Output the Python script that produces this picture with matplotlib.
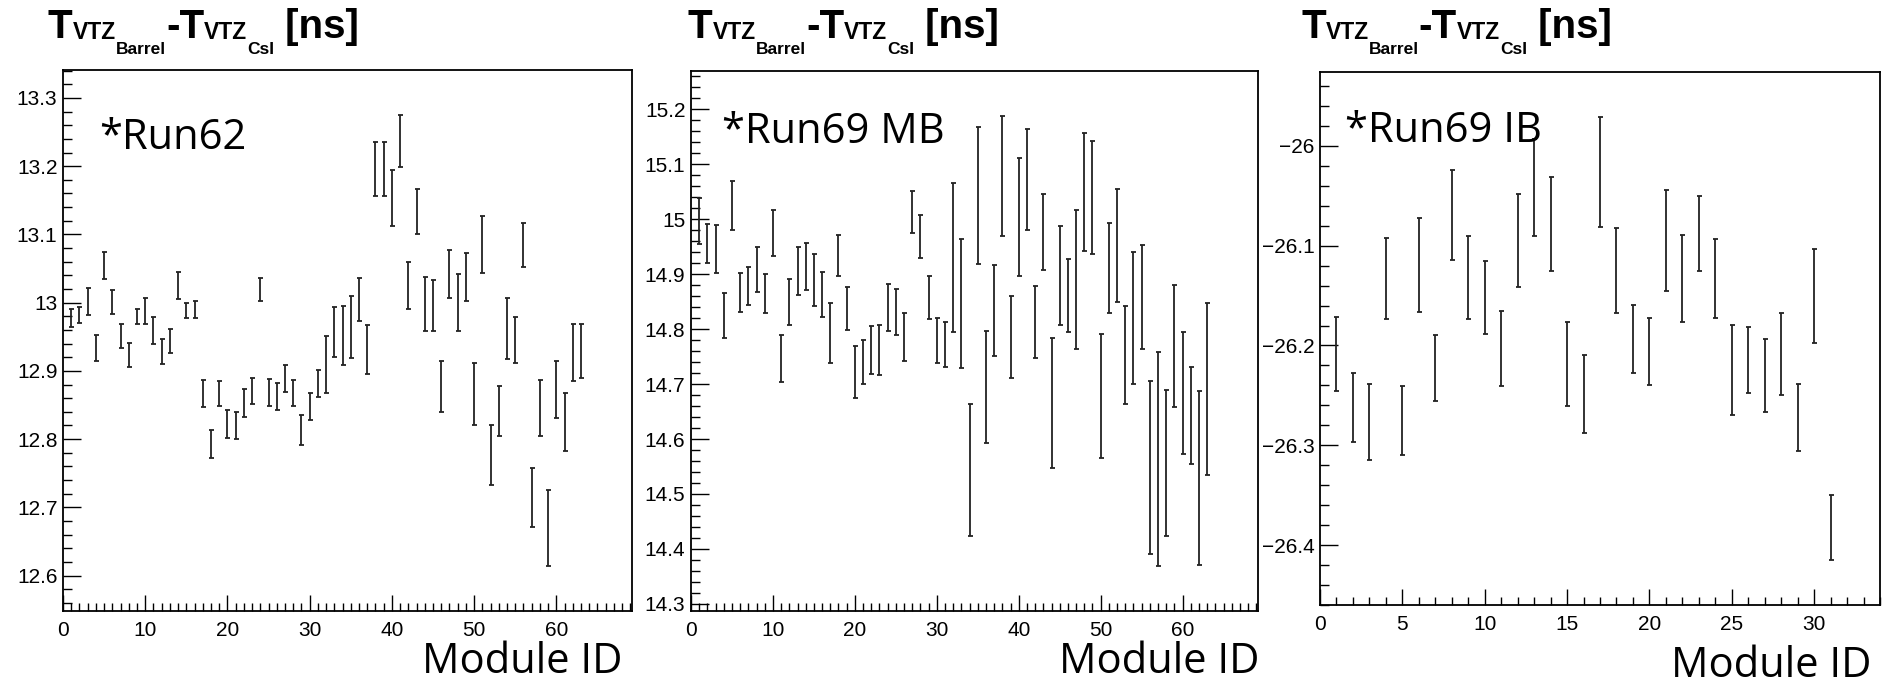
import numpy as np
import matplotlib.pyplot as plt
from matplotlib.ticker import MultipleLocator, FuncFormatter
from matplotlib.transforms import IdentityTransform

# module IDs
ids_mb = np.arange(1, 64)
ids_ib = np.arange(1, 32)

# Run62 : top / bottom of the error bars [ns]
run62_hi = [12.990, 12.993, 13.021, 12.952, 13.074, 13.018, 12.969, 12.941, 12.990, 13.007,
            12.979, 12.947, 12.962, 13.045, 12.999, 13.003, 12.886, 12.814, 12.885, 12.842,
            12.840, 12.873, 12.889, 13.036, 12.888, 12.882, 12.909, 12.887, 12.836, 12.868,
            12.901, 12.951, 12.993, 12.995, 13.010, 13.036, 12.967, 13.235, 13.235, 13.195,
            13.275, 13.060, 13.167, 13.038, 13.033, 12.915, 13.077, 13.042, 13.073, 12.912,
            13.127, 12.821, 12.878, 13.007, 12.979, 13.117, 12.757, 12.887, 12.726, 12.915,
            12.868, 12.969, 12.969]
run62_lo = [12.965, 12.970, 12.982, 12.914, 13.035, 12.983, 12.933, 12.905, 12.968, 12.969,
            12.940, 12.910, 12.926, 13.005, 12.977, 12.978, 12.847, 12.772, 12.848, 12.801,
            12.800, 12.832, 12.851, 13.002, 12.848, 12.843, 12.869, 12.848, 12.791, 12.828,
            12.861, 12.868, 12.920, 12.909, 12.919, 12.973, 12.896, 13.156, 13.156, 13.113,
            13.199, 12.990, 13.100, 12.959, 12.959, 12.840, 13.007, 12.959, 13.002, 12.821,
            13.043, 12.733, 12.804, 12.917, 12.912, 13.052, 12.671, 12.805, 12.614, 12.831,
            12.783, 12.885, 12.890]

# Run69 MB
run69mb_hi = [15.039, 14.991, 14.989, 14.865, 15.070, 14.903, 14.914, 14.949, 14.901, 15.017,
              14.790, 14.892, 14.950, 14.956, 14.937, 14.905, 14.848, 14.971, 14.876, 14.769,
              14.780, 14.805, 14.808, 14.882, 14.873, 14.829, 15.051, 15.007, 14.897, 14.820,
              14.813, 15.066, 14.965, 14.664, 15.168, 14.797, 14.917, 15.188, 14.861, 15.111,
              15.164, 14.878, 15.047, 14.784, 14.988, 14.927, 15.017, 15.158, 15.143, 14.792,
              14.993, 15.056, 14.842, 14.940, 14.954, 14.706, 14.758, 14.690, 14.881, 14.794,
              14.732, 14.687, 14.847]
run69mb_lo = [14.955, 14.920, 14.903, 14.784, 14.980, 14.831, 14.844, 14.868, 14.829, 14.934,
              14.703, 14.808, 14.863, 14.871, 14.842, 14.822, 14.738, 14.896, 14.798, 14.674,
              14.701, 14.719, 14.717, 14.797, 14.790, 14.743, 14.976, 14.929, 14.818, 14.738,
              14.732, 14.794, 14.730, 14.424, 14.918, 14.592, 14.752, 14.970, 14.711, 14.897,
              14.980, 14.747, 14.907, 14.547, 14.807, 14.794, 14.764, 14.943, 14.936, 14.565,
              14.830, 14.850, 14.664, 14.700, 14.764, 14.390, 14.369, 14.424, 14.659, 14.573,
              14.554, 14.371, 14.534]

# Run69 IB
run69ib_hi = [-26.171, -26.228, -26.239, -26.092, -26.241, -26.072, -26.189, -26.024, -26.090, -26.115,
              -26.165, -26.048, -25.993, -26.031, -26.176, -26.210, -25.971, -26.082, -26.159, -26.172,
              -26.044, -26.089, -26.050, -26.093, -26.179, -26.181, -26.194, -26.167, -26.239, -26.103,
              -26.350]
run69ib_lo = [-26.246, -26.297, -26.315, -26.173, -26.310, -26.166, -26.256, -26.114, -26.173, -26.188,
              -26.241, -26.141, -26.090, -26.125, -26.261, -26.288, -26.081, -26.167, -26.228, -26.240,
              -26.145, -26.176, -26.125, -26.172, -26.270, -26.248, -26.267, -26.250, -26.306, -26.198,
              -26.415]

W, H = 1884, 685
fig = plt.figure(figsize=(W / 100, H / 100), dpi=100)
px = IdentityTransform()


def fmt(v, pos):
    return f"{v:g}".replace("-", "\u2212")


def panel(box, ids, hi, lo, xlim, ylim, xmajor):
    l, r, t, b = box
    ax = fig.add_axes([l / W, 1 - b / H, (r - l) / W, (b - t) / H])
    hi = np.array(hi)
    lo = np.array(lo)
    ax.errorbar(ids, (hi + lo) / 2, yerr=(hi - lo) / 2, fmt='none', ecolor='#222222',
                elinewidth=1.3, capsize=1.8, capthick=1.3)
    ax.set_xlim(*xlim)
    ax.set_ylim(*ylim)
    ax.xaxis.set_major_locator(MultipleLocator(xmajor))
    ax.xaxis.set_minor_locator(MultipleLocator(1))
    ax.yaxis.set_major_locator(MultipleLocator(0.1))
    ax.yaxis.set_minor_locator(MultipleLocator(0.02))
    ax.xaxis.set_major_formatter(FuncFormatter(fmt))
    ax.yaxis.set_major_formatter(FuncFormatter(fmt))
    ax.tick_params(which='both', direction='in', top=False, right=False, width=1, color='k')
    ax.tick_params(which='major', labelsize=15)
    ax.tick_params(axis='y', which='major', length=13, pad=4)
    ax.tick_params(axis='y', which='minor', length=6.5)
    ax.tick_params(axis='x', which='major', length=11.5, pad=7)
    ax.tick_params(axis='x', which='minor', length=5.8)
    for s in ax.spines.values():
        s.set_linewidth(1.3)
    for lab in ax.get_xticklabels() + ax.get_yticklabels():
        lab.set_family('Liberation Sans')
    return ax


def title(x0, base):
    # T_{VTZ_{Barrel}}-T_{VTZ_{CsI}} [ns], built piece by piece
    parts = [("T", 29, 0), ("VTZ", 16.5, 1), ("Barrel", 12.5, 16),
             ("-T", 29, 0), ("VTZ", 16.5, 1), ("CsI", 12.5, 16), (" [ns]", 29, 0)]
    rend = fig.canvas.get_renderer()
    x = x0
    for s, size, dy in parts:
        t = fig.text(x, H - base - dy, s, fontsize=size, fontweight='bold',
                     family='Liberation Sans', transform=px, va='baseline')
        x += t.get_window_extent(rend).width


panel((63, 632, 70, 611), ids_mb, run62_hi, run62_lo, (0, 69.2), (12.548, 13.341), 10)
panel((691, 1258, 71, 611), ids_mb, run69mb_hi, run69mb_lo, (0, 69.2), (14.287, 15.27), 10)
panel((1320, 1880, 72, 605), ids_ib, run69ib_hi, run69ib_lo, (0, 34), (-26.46, -25.926), 5)

title(48, 38)
title(688, 38)
title(1301, 38)

for x, y, s in [(99, 149, "*Run62"), (722, 143, "*Run69 MB"), (1345, 142, "*Run69 IB")]:
    fig.text(x, H - y, s, fontsize=30, family='Open Sans', transform=px, va='baseline')

for x, y in [(622, 673), (1259, 673), (1871, 677)]:
    fig.text(x, H - y, "Module ID", fontsize=30, family='Open Sans', transform=px,
             va='baseline', ha='right')

fig.savefig("out.png", dpi=100)
